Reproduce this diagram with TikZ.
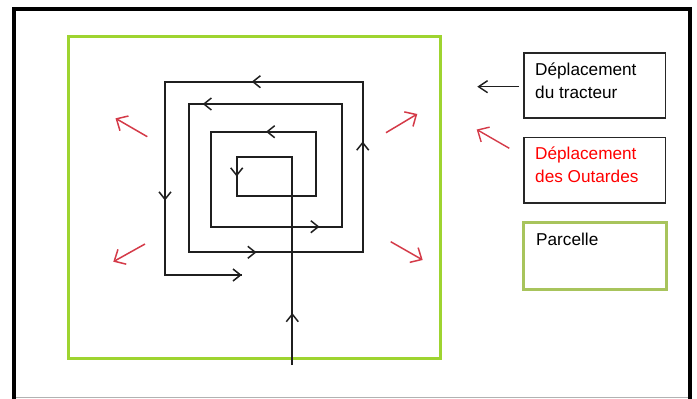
\documentclass[tikz,border=0pt]{standalone}
\usepackage{fontspec}
\setmainfont{Liberation Sans}
\usetikzlibrary{arrows.meta}
\definecolor{parcelgreen}{RGB}{158,212,48}
\definecolor{keygreen}{RGB}{168,196,92}
\definecolor{birdred}{RGB}{212,58,72}
\definecolor{labelred}{RGB}{255,0,0}
\begin{document}
\begin{tikzpicture}[x=1pt,y=-1pt,
  track/.style={line width=2pt, draw=black!88, line join=miter},
  tip/.style={line width=1.5pt, draw=black!88, -{Straight Barb[length=7.5pt,width=12pt]}},
  flight/.style={line width=1.5pt, draw=birdred, -{Straight Barb[length=9pt,width=17pt]}},
  keybox/.style={draw=black!85, line width=1.2pt, anchor=north west, inner sep=0pt},
  keytext/.style={anchor=base west, inner sep=0pt, font=\fontsize{17.2}{20}\selectfont}]
\useasboundingbox (0,0) rectangle (697,399);

% window frame
\draw[line width=1.5pt, draw=black!30] (14,397.5) -- (689.5,397.5);
\draw[line width=4pt, line join=miter] (14,399) -- (14,9) -- (689.5,9) -- (689.5,399);

% field
\node[draw=parcelgreen, line width=3pt, anchor=north west, inner sep=0pt,
      minimum width=372pt, minimum height=322pt] (field) at (67,35) {};

% tractor track, spiralling inwards from the entry
\coordinate (entry) at (292.3,365);
\coordinate (exit) at (241.7,275);
\draw[track] (entry) -- (292.3,157.3) -- (236.7,157.3) -- (236.7,196) -- (315.7,196)
  -- (315.7,131.7) -- (210.7,131.7) -- (210.7,226.7) -- (341.7,226.7)
  -- (341.7,104) -- (189,104) -- (189,252.3) -- (362.7,252.3)
  -- (362.7,81.7) -- (165,81.7) -- (165,275) -- (exit);

% direction marks along the track
\draw[tip] (262,81.7) -- (251.7,81.7);
\draw[tip] (213,104) -- (202.7,104);
\draw[tip] (276,131.7) -- (266,131.7);
\draw[tip] (236.7,166) -- (236.7,176.5);
\draw[tip] (309,226.7) -- (319.5,226.7);
\draw[tip] (246,252.3) -- (256.5,252.3);
\draw[tip] (231,275) -- (exit);
\draw[tip] (362.7,152) -- (362.7,141.5);
\draw[tip] (165,190) -- (165,200.5);
\draw[tip] (292.3,324) -- (292.3,313);

% birds escaping towards the corners
\draw[flight] (147.3,136.7) -- (115.5,118.3);
\draw[flight] (145,244) -- (113.3,261.7);
\draw[flight] (386,132.7) -- (417.3,114);
\draw[flight] (390.7,241.7) -- (422.7,260);

% key
\node[keybox, minimum width=141.4pt, minimum height=65pt] (keytractor) at (523.3,52.3) {};
\node[keytext] (ktA) at (535,75) {Déplacement};
\node[keytext] (ktB) at (535,98.3) {du tracteur};
\draw[tip, line width=1.4pt, -{Straight Barb[length=9pt,width=12pt]}] (519,86.7) -- (477.3,86.7);

\node[keybox, minimum width=141.4pt, minimum height=65.6pt] (keybirds) at (523.3,136.7) {};
\node[keytext, text=labelred] (kbA) at (535,159.3) {Déplacement};
\node[keytext, text=labelred] (kbB) at (535,182.7) {des Outardes};
\draw[flight, line width=1.4pt] (509.3,148.3) -- (476.7,129.5);

\node[keybox, draw=keygreen, line width=3pt, minimum width=143.3pt, minimum height=66.7pt] (keyfield) at (521.7,221) {};
\node[keytext] (kf) at (536,245) {Parcelle};
\end{tikzpicture}
\end{document}
